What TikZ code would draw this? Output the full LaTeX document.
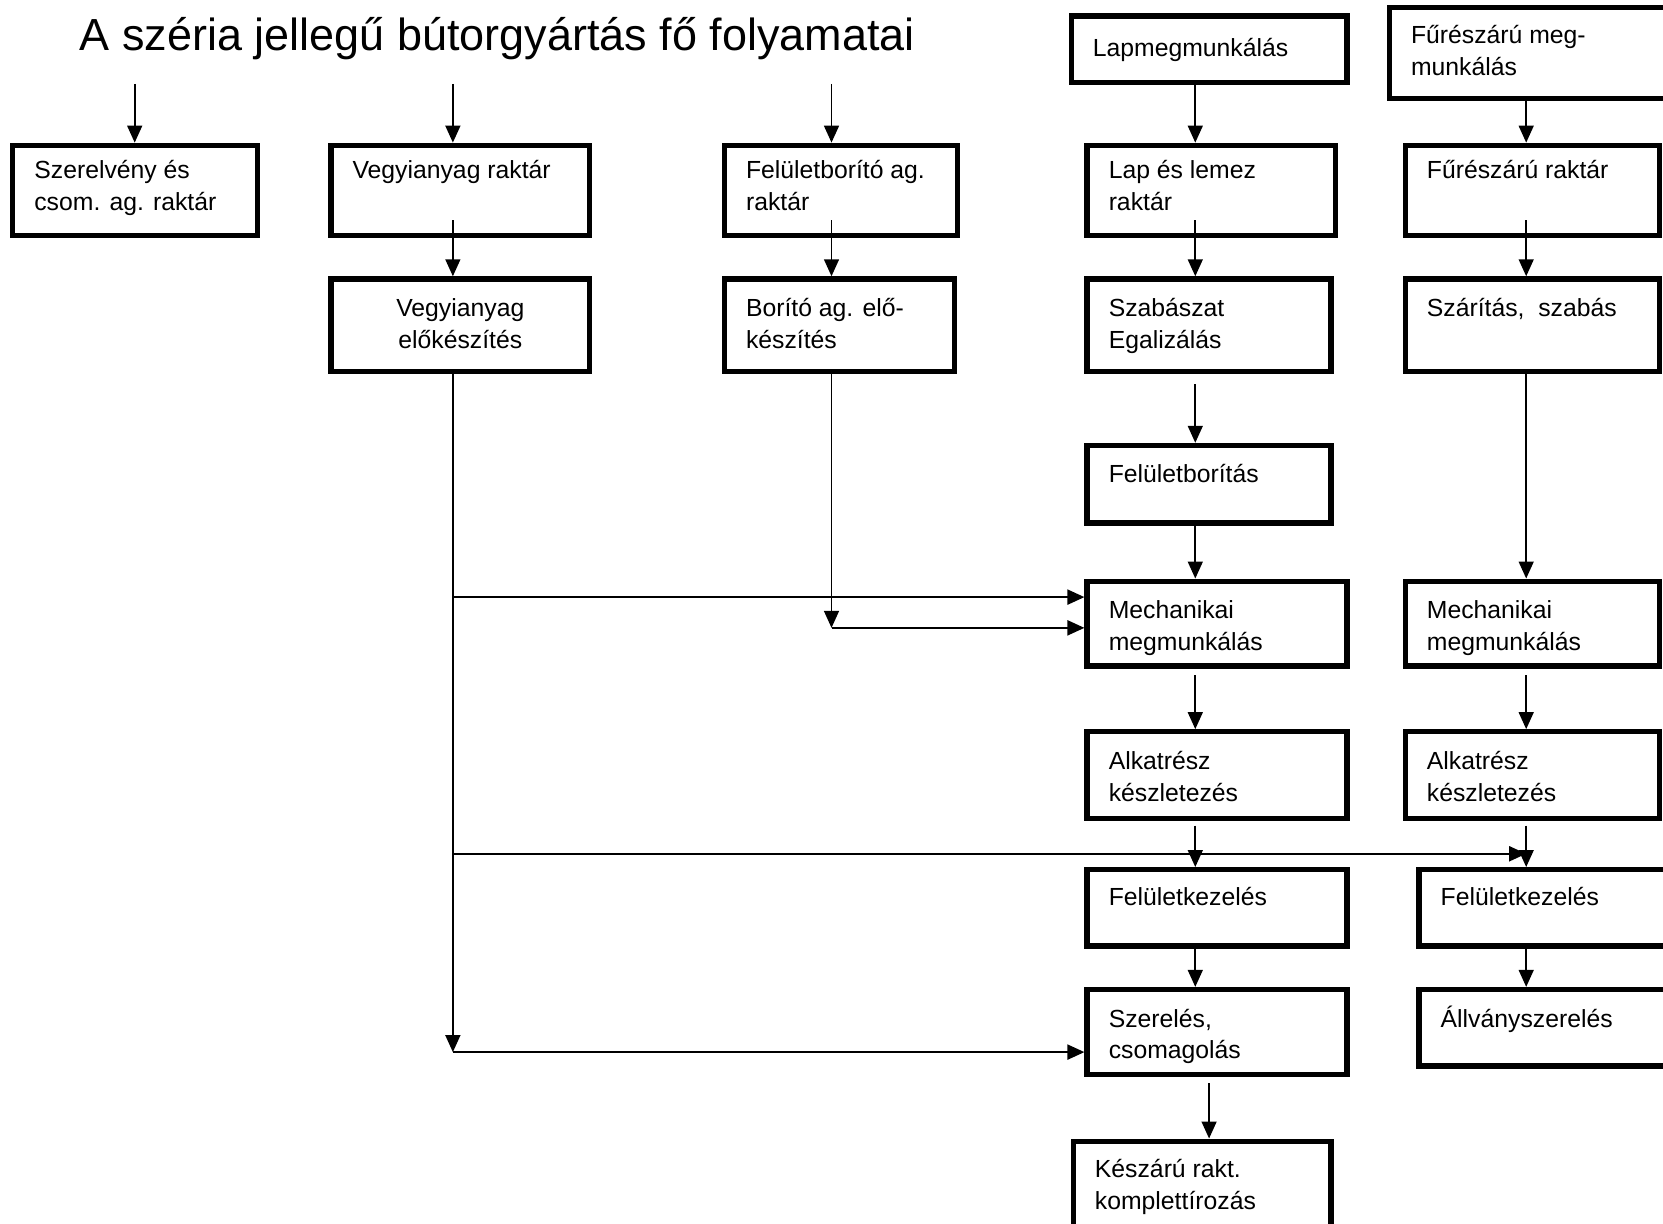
\documentclass[tikz,border=0pt]{standalone}
\usepackage{fontspec}
\setmainfont{Liberation Sans}
\usetikzlibrary{arrows.meta,fit}

% One unit = 0.5pt; y grows downwards.
\tikzset{
  box/.style={draw, line width=2.5pt, rectangle, inner sep=0pt},
  txt/.style={anchor=north west, inner sep=0pt, align=left,
    font=\fontsize{11.67pt}{15pt}\selectfont},
  ctxt/.style={txt, anchor=north, align=center},
  arr/.style={line width=0.9pt, -{Triangle[length=8pt,width=7pt]}},
  harr/.style={arr, line width=1.1pt},
}

% \procbox{name}{x1}{y1}{x2}{y2}{first baseline offset}{text}
\newcommand\procbox[7]{%
  \node[box, fit={(#2,#3) (#4,#5)}] (#1) {};
  \node[txt] (#1-t) at (#2+20, #3+#6-21) {\strut #7};
}

\begin{document}
\begin{tikzpicture}[x=0.5pt, y=-0.5pt]
\useasboundingbox (0,0) rectangle (1568,1154);
\fill[white] (0,0) rectangle (1568,1154);
\clip (0,0) rectangle (1568,1154);

% title
\node[anchor=base west, inner sep=0pt, font=\fontsize{21.2pt}{25pt}\selectfont]
  (title) at (75,48) {A széria jellegű bútorgyártás fő folyamatai};

% column positions of the vertical flow lines
\coordinate (colS) at (127,0);
\coordinate (colV) at (427,0);
\coordinate (colB) at (784,0);
\coordinate (colL) at (1127,0);
\coordinate (colK) at (1140,0);
\coordinate (colR) at (1439,0);

% top row
\procbox{lapm}{1010}{15}{1270}{78}{38}{Lapmegmunkálás}
\procbox{furm}{1310}{7}{1580}{93}{34}{Fűrészárú meg-\\munkálás}

% stores
\procbox{szer}{12}{137}{243}{222}{31}{Szerelvény és\\csom. ag. raktár}
\procbox{vegy}{312}{137}{556}{222}{31}{Vegyianyag raktár}
\procbox{felb}{683}{137}{903}{222}{31}{Felületborító ag.\\raktár}
\procbox{lap}{1025}{137}{1259}{222}{31}{Lap és lemez\\raktár}
\procbox{furr}{1325}{137}{1565}{222}{31}{Fűrészárú raktár}

% preparation
\node[box, fit={(312,263) (556,350)}] (vegye) {};
\node[ctxt] (vegye-t) at (434,263+35-21) {\strut Vegyianyag\\előkészítés};
\procbox{borito}{683}{263}{900}{350}{35}{Borító ag. elő-\\készítés}
\procbox{szab}{1025}{263}{1255}{350}{35}{Szabászat\\Egalizálás}
\procbox{szar}{1325}{263}{1565}{350}{35}{Szárítás,\ \ szabás}

% panel line
\procbox{felbor}{1025}{420}{1255}{493}{35}{Felületborítás}
\procbox{mech}{1025}{548}{1270}{628}{35}{Mechanikai\\megmunkálás}
\procbox{alk}{1025}{690}{1270}{772}{35}{Alkatrész\\készletezés}
\procbox{felk}{1025}{820}{1270}{892}{33}{Felületkezelés}
\procbox{szerel}{1025}{933}{1270}{1013}{35}{Szerelés,\\csomagolás}
\procbox{kesz}{1012}{1076}{1255}{1170}{34}{Készárú rakt.\\komplettírozás}

% solid wood line
\procbox{mech2}{1325}{548}{1565}{628}{35}{Mechanikai\\megmunkálás}
\procbox{alk2}{1325}{690}{1565}{772}{35}{Alkatrész\\készletezés}
\procbox{felk2}{1338}{820}{1580}{892}{33}{Felületkezelés}
\procbox{allv}{1338}{933}{1580}{1005}{35}{Állványszerelés}

% incoming arrows
\coordinate (inS) at (127,79);
\coordinate (inV) at (427,79);
\coordinate (inB) at (784,79);
\draw[arr] (inS) -- (inS |- szer.north);
\draw[arr] (inV) -- (inV |- vegy.north);
\draw[arr] (inB) -- (inB |- felb.north);
\draw[arr] (lapm.south -| colL) -- (colL |- lap.north);
\draw[arr] (furm.south -| colR) -- (colR |- furr.north);

% stores to preparation
\draw[arr] ([yshift=8.5pt]vegy.south -| colV) -- (colV |- vegye.north);
\draw[arr] ([yshift=8.5pt]felb.south -| colB) -- (colB |- borito.north);
\draw[arr] ([yshift=8.5pt]lap.south -| colL) -- (colL |- szab.north);
\draw[arr] ([yshift=8.5pt]furr.south -| colR) -- (colR |- szar.north);

% panel line flow
\draw[arr] ([yshift=-5pt]szab.south -| colL) -- (colL |- felbor.north);
\draw[arr] (felbor.south -| colL) -- (colL |- mech.north);
\draw[arr] ([yshift=-3pt]mech.south -| colL) -- (colL |- alk.north);
\draw[arr] ([yshift=-2pt]alk.south -| colL) -- (colL |- felk.north);
\draw[arr] (felk.south -| colL) -- (colL |- szerel.north);
\draw[arr] ([yshift=-3pt]szerel.south -| colK) -- (colK |- kesz.north);

% solid wood flow
\draw[arr] (szar.south -| colR) -- (colR |- mech2.north);
\draw[arr] ([yshift=-3pt]mech2.south -| colR) -- (colR |- alk2.north);
\draw[arr] ([yshift=-2pt]alk2.south -| colR) -- (colR |- felk2.north);
\draw[arr] (felk2.south -| colR) -- (colR |- allv.north);

% chemicals distribution
\coordinate (vA) at (427,563);
\coordinate (vB) at (427,805);
\coordinate (vC) at (427,992);
\coordinate (jR) at (1439,805);
\draw[arr] (vegye.south -| colV) -- (vC);
\draw[harr] (vC) -- (vC -| szerel.west);
\draw[harr] (vA) -- (vA -| mech.west);
\draw[harr] (vB) -- (jR);

% veneer supply
\coordinate (bC) at (784,592);
\draw[arr] (borito.south -| colB) -- (bC);
\draw[harr] (bC) -- (bC -| mech.west);
\end{tikzpicture}
\end{document}
